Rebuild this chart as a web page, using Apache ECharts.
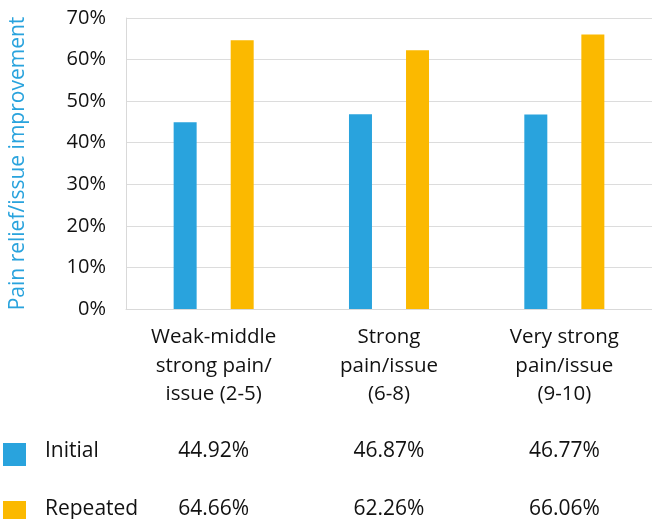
<!DOCTYPE html>
<html>
<head>
<meta charset="utf-8">
<script src="https://cdn.jsdelivr.net/npm/echarts@6/dist/echarts.min.js"></script>
<style>
html,body{margin:0;padding:0;background:#fff;}
#c{width:652px;height:519px;}
</style>
</head>
<body>
<div id="c"></div>
<script>
var categories = ['Weak-middle\nstrong pain/\nissue (2-5)', 'Strong\npain/issue\n(6-8)', 'Very strong\npain/issue\n(9-10)'];
var seriesNames = ['Initial', 'Repeated'];
var initialValues = [44.92, 46.87, 46.77];
var repeatedValues = [64.66, 62.26, 66.06];
var yTicks = [0, 10, 20, 30, 40, 50, 60, 70];
var yAxisTitle = 'Pain relief/issue improvement';

var FONT = 'Open Sans';
var BLUE = '#29a3dd';
var YELLOW = '#fbb900';
var TEXT = '#111111';

var chart = echarts.init(document.getElementById('c'));
var option = {
  animation: false,
  textStyle: { fontFamily: FONT },
  grid: { left: 126, right: -5, top: 18, bottom: 210 },
  xAxis: {
    type: 'category',
    data: categories,
    axisLine: { show: true, lineStyle: { color: '#d9d9d9', width: 1 } },
    axisTick: { show: false },
    axisLabel: { fontFamily: FONT, fontSize: 20.5, lineHeight: 28.5, color: TEXT, margin: 14, interval: 0 }
  },
  yAxis: {
    type: 'value',
    min: yTicks[0],
    max: yTicks[yTicks.length - 1],
    interval: 10,
    name: yAxisTitle,
    nameLocation: 'middle',
    nameGap: 97,
    nameRotate: 90,
    nameTextStyle: { fontFamily: FONT, fontSize: 21, color: BLUE },
    axisLine: { show: true, lineStyle: { color: '#d9d9d9', width: 1 } },
    axisTick: { show: false },
    splitLine: { show: true, lineStyle: { color: '#dcdcdc', width: 1 } },
    axisLabel: { fontFamily: FONT, fontSize: 20, color: TEXT, margin: 20, formatter: '{value}%' }
  },
  series: [
    { name: seriesNames[0], type: 'bar', data: initialValues, barWidth: 23, barGap: '148%', itemStyle: { color: BLUE } },
    { name: seriesNames[1], type: 'bar', data: repeatedValues, barWidth: 23, itemStyle: { color: YELLOW } }
  ]
};
chart.setOption(option);

var rows = [initialValues, repeatedValues];
var rowColors = [BLUE, YELLOW];
var rowY = [451, 509];
var graphics = [];
rows.forEach(function (vals, r) {
  graphics.push({
    type: 'rect',
    shape: { x: 3, y: rowY[r] - 8, width: 23, height: 23 },
    style: { fill: rowColors[r] }
  });
  graphics.push({
    type: 'text',
    x: 45,
    y: rowY[r],
    style: { text: seriesNames[r], fontFamily: FONT, fontSize: 21, fill: TEXT, align: 'left', verticalAlign: 'middle' }
  });
  vals.forEach(function (v, i) {
    var x = chart.convertToPixel({ xAxisIndex: 0 }, i);
    graphics.push({
      type: 'text',
      x: x,
      y: rowY[r],
      style: {
        text: v.toFixed(2) + '%',
        fontFamily: FONT,
        fontSize: 21,
        fill: TEXT,
        align: 'center',
        verticalAlign: 'middle'
      }
    });
  });
});
chart.setOption({ graphic: graphics });
</script>
</body>
</html>
